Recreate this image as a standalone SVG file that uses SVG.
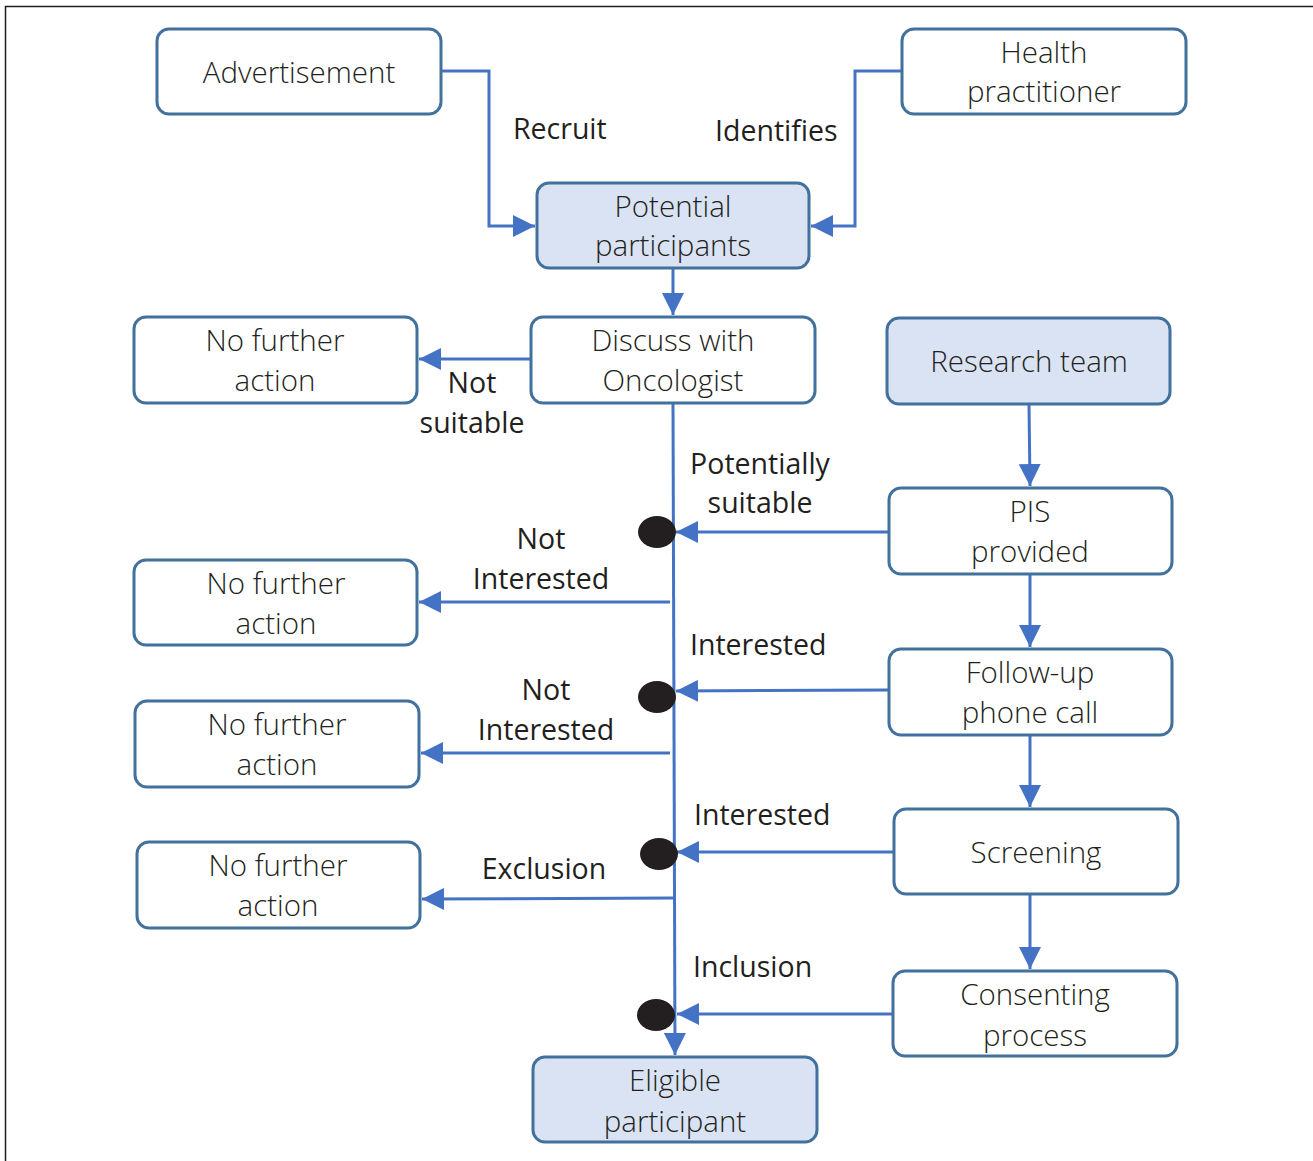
<svg xmlns="http://www.w3.org/2000/svg" width="1313" height="1161" viewBox="0 0 1313 1161">
<style>
.box{fill:#ffffff;stroke:#41719C;stroke-width:3}
.hl{fill:#DAE3F3}
.t{font-family:"Open Sans","Liberation Sans",sans-serif;font-weight:300;font-size:29.5px;fill:#231F20;text-anchor:middle}
.l{font-family:"Open Sans","Liberation Sans",sans-serif;font-weight:400;font-size:28.5px;fill:#231F20}
.c{fill:none;stroke:#4472C4;stroke-width:3}
.dot{fill:#231F20}
</style>
<defs>
<marker id="ah" markerUnits="userSpaceOnUse" markerWidth="22" markerHeight="22" viewBox="0 0 22 22" refX="22" refY="11" orient="auto">
<path d="M0,0 L22,11 L0,22 Z" fill="#4472C4"/>
</marker>
</defs>
<rect x="5.5" y="6.5" width="1320" height="1170" fill="none" stroke="#231F20" stroke-width="1.5"/>

<g id="connectors">
<path class="c" d="M441,71 H489 V226 H535" marker-end="url(#ah)"/>
<path class="c" d="M902,71 H855 V226 H811" marker-end="url(#ah)"/>
<path class="c" d="M673,268 V315" marker-end="url(#ah)"/>
<path class="c" d="M531,359 H419" marker-end="url(#ah)"/>
<path class="c" d="M673,403 L675,1055" marker-end="url(#ah)"/>
<path class="c" d="M1029,404 L1030,486" marker-end="url(#ah)"/>
<path class="c" d="M892,532 H676" marker-end="url(#ah)"/>
<path class="c" d="M670,602 H419" marker-end="url(#ah)"/>
<path class="c" d="M1030,574 V647" marker-end="url(#ah)"/>
<path class="c" d="M889,690 L676,691" marker-end="url(#ah)"/>
<path class="c" d="M670,753 H421" marker-end="url(#ah)"/>
<path class="c" d="M1030,735 V807" marker-end="url(#ah)"/>
<path class="c" d="M894,852 H677" marker-end="url(#ah)"/>
<path class="c" d="M674,898 L422,899" marker-end="url(#ah)"/>
<path class="c" d="M1030,894 V969" marker-end="url(#ah)"/>
<path class="c" d="M893,1014 H677" marker-end="url(#ah)"/>
<ellipse class="dot" cx="657" cy="532" rx="19" ry="16"/>
<ellipse class="dot" cx="657" cy="697" rx="19" ry="16"/>
<ellipse class="dot" cx="659" cy="854" rx="19" ry="16"/>
<ellipse class="dot" cx="656" cy="1015" rx="19" ry="16"/>
<text class="l" x="513" y="139">Recruit</text>
<text class="l" x="715" y="141">Identifies</text>
<text class="l" x="472" y="393" text-anchor="middle">Not</text>
<text class="l" x="472" y="433" text-anchor="middle">suitable</text>
<text class="l" x="760" y="474" text-anchor="middle">Potentially</text>
<text class="l" x="760" y="513" text-anchor="middle">suitable</text>
<text class="l" x="541" y="549" text-anchor="middle">Not</text>
<text class="l" x="541" y="589" text-anchor="middle">Interested</text>
<text class="l" x="690" y="655">Interested</text>
<text class="l" x="546" y="700" text-anchor="middle">Not</text>
<text class="l" x="546" y="740" text-anchor="middle">Interested</text>
<text class="l" x="694" y="825">Interested</text>
<text class="l" x="544" y="879" text-anchor="middle">Exclusion</text>
<text class="l" x="693" y="977">Inclusion</text>
</g>

<g id="advertisement"><rect class="box" x="157" y="29" width="284" height="85" rx="12"/><text class="t" x="299" y="83">Advertisement</text></g>
<g id="health-practitioner"><rect class="box" x="902" y="29" width="284" height="85" rx="12"/><text class="t" x="1044" y="63">Health</text><text class="t" x="1044" y="102">practitioner</text></g>
<g id="potential-participants"><rect class="box hl" x="537" y="183" width="272" height="85" rx="12"/><text class="t" x="673" y="217">Potential</text><text class="t" x="673" y="256">participants</text></g>
<g id="discuss"><rect class="box" x="531" y="317" width="284" height="86" rx="12"/><text class="t" x="673" y="351">Discuss with</text><text class="t" x="673" y="391">Oncologist</text></g>
<g id="nfa1"><rect class="box" x="134" y="317" width="283" height="86" rx="12"/><text class="t" x="275" y="351">No further</text><text class="t" x="275" y="391">action</text></g>
<g id="research-team"><rect class="box hl" x="887" y="318" width="283" height="86" rx="12"/><text class="t" x="1029" y="372">Research team</text></g>
<g id="pis"><rect class="box" x="889" y="488" width="283" height="86" rx="12"/><text class="t" x="1030" y="522">PIS</text><text class="t" x="1030" y="562">provided</text></g>
<g id="nfa2"><rect class="box" x="134" y="560" width="283" height="85" rx="12"/><text class="t" x="276" y="594">No further</text><text class="t" x="276" y="634">action</text></g>
<g id="follow-up"><rect class="box" x="889" y="649" width="283" height="86" rx="12"/><text class="t" x="1030" y="683">Follow-up</text><text class="t" x="1030" y="723">phone call</text></g>
<g id="nfa3"><rect class="box" x="135" y="701" width="284" height="86" rx="12"/><text class="t" x="277" y="735">No further</text><text class="t" x="277" y="775">action</text></g>
<g id="screening"><rect class="box" x="894" y="809" width="284" height="85" rx="12"/><text class="t" x="1036" y="863">Screening</text></g>
<g id="nfa4"><rect class="box" x="137" y="842" width="283" height="86" rx="12"/><text class="t" x="278" y="876">No further</text><text class="t" x="278" y="916">action</text></g>
<g id="consenting"><rect class="box" x="893" y="971" width="284" height="85" rx="12"/><text class="t" x="1035" y="1005">Consenting</text><text class="t" x="1035" y="1046">process</text></g>
<g id="eligible"><rect class="box hl" x="533" y="1057" width="284" height="85" rx="12"/><text class="t" x="675" y="1091">Eligible</text><text class="t" x="675" y="1132">participant</text></g>
</svg>
